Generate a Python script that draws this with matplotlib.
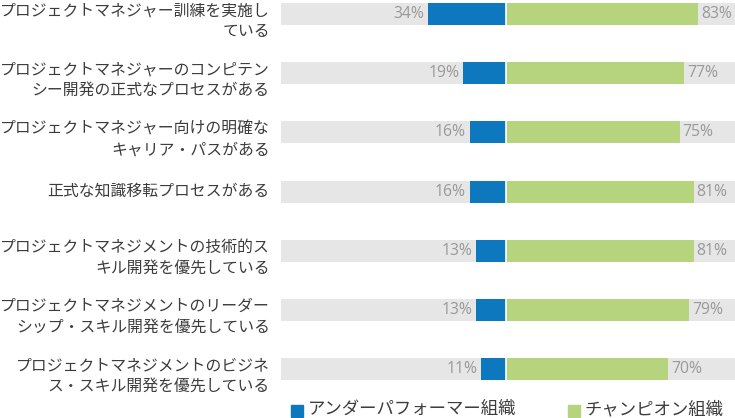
import matplotlib
matplotlib.use('Agg')
import matplotlib.pyplot as plt
from matplotlib.patches import Rectangle

plt.rcParams['font.family'] = ['Noto Sans CJK JP', 'DejaVu Sans']

categories = [
    'プロジェクトマネジャー訓練を実施し\nている',
    'プロジェクトマネジャーのコンピテン\nシー開発の正式なプロセスがある',
    'プロジェクトマネジャー向けの明確な\nキャリア・パスがある',
    '正式な知識移転プロセスがある',
    'プロジェクトマネジメントの技術的ス\nキル開発を優先している',
    'プロジェクトマネジメントのリーダー\nシップ・スキル開発を優先している',
    'プロジェクトマネジメントのビジネ\nス・スキル開発を優先している',
]
under = [34, 19, 16, 16, 13, 13, 11]
champ = [83, 77, 75, 81, 81, 79, 70]
series_names = ['アンダーパフォーマー組織', 'チャンピオン組織']

blue = '#0e78be'
green = '#b5d47d'
grey = '#e6e6e6'
label_col = '#3c3c3c'
pct_col = '#999999'

W, H = 735, 418
fig = plt.figure(figsize=(W / 100, H / 100), dpi=100)
ax = fig.add_axes([281 / W, 1 - 388 / H, 1 - 281 / W, 388 / H])

pos = list(range(len(categories)))
left_lim, right_lim = -97.6, 98.9
bh = 0.372

ax.barh(pos, [left_lim] * len(pos), height=bh, color=grey)
ax.barh(pos, [right_lim] * len(pos), height=bh, color=grey)
ax.barh(pos, [-v for v in under], height=bh, color=blue)
ax.barh(pos, champ, height=bh, color=green)
ax.axvline(0, color='white', lw=1.2)

for i, (u, c) in enumerate(zip(under, champ)):
    ax.annotate(f'{u}%', (-u, i), xytext=(-2.5, 0), textcoords='offset points',
                ha='right', va='center', fontsize=11.3, color=pct_col,
                family=['Open Sans', 'DejaVu Sans'])
    ax.annotate(f'{c}%', (c, i), xytext=(2, 0), textcoords='offset points',
                ha='left', va='center', fontsize=11.3, color=pct_col,
                family=['Open Sans', 'DejaVu Sans'])
    lab = categories[i]
    if '\n' in lab:
        ax.annotate(lab, (left_lim, i), xytext=(-8, 8.5),
                    textcoords='offset points', ha='right', va='top',
                    fontsize=11.4, color=label_col, linespacing=1.28,
                    annotation_clip=False)
    else:
        ax.annotate(lab, (left_lim, i), xytext=(-8, 0),
                    textcoords='offset points', ha='right', va='center',
                    fontsize=11.4, color=label_col, annotation_clip=False)

ax.set_xlim(left_lim, right_lim)
ax.set_ylim(6.32, -0.237)
ax.axis('off')

# legend
for x0, col, name in [(290.7, blue, series_names[0]), (567.7, green, series_names[1])]:
    fig.patches.append(Rectangle((x0 / W, 1 - 417 / H), 12.3 / W, 12 / H,
                                 transform=fig.transFigure, color=col))
    fig.text((x0 + 17) / W, 1 - 409 / H, name, ha='left', va='center',
             fontsize=12.5, color=label_col)

fig.savefig('out.png', dpi=100)
